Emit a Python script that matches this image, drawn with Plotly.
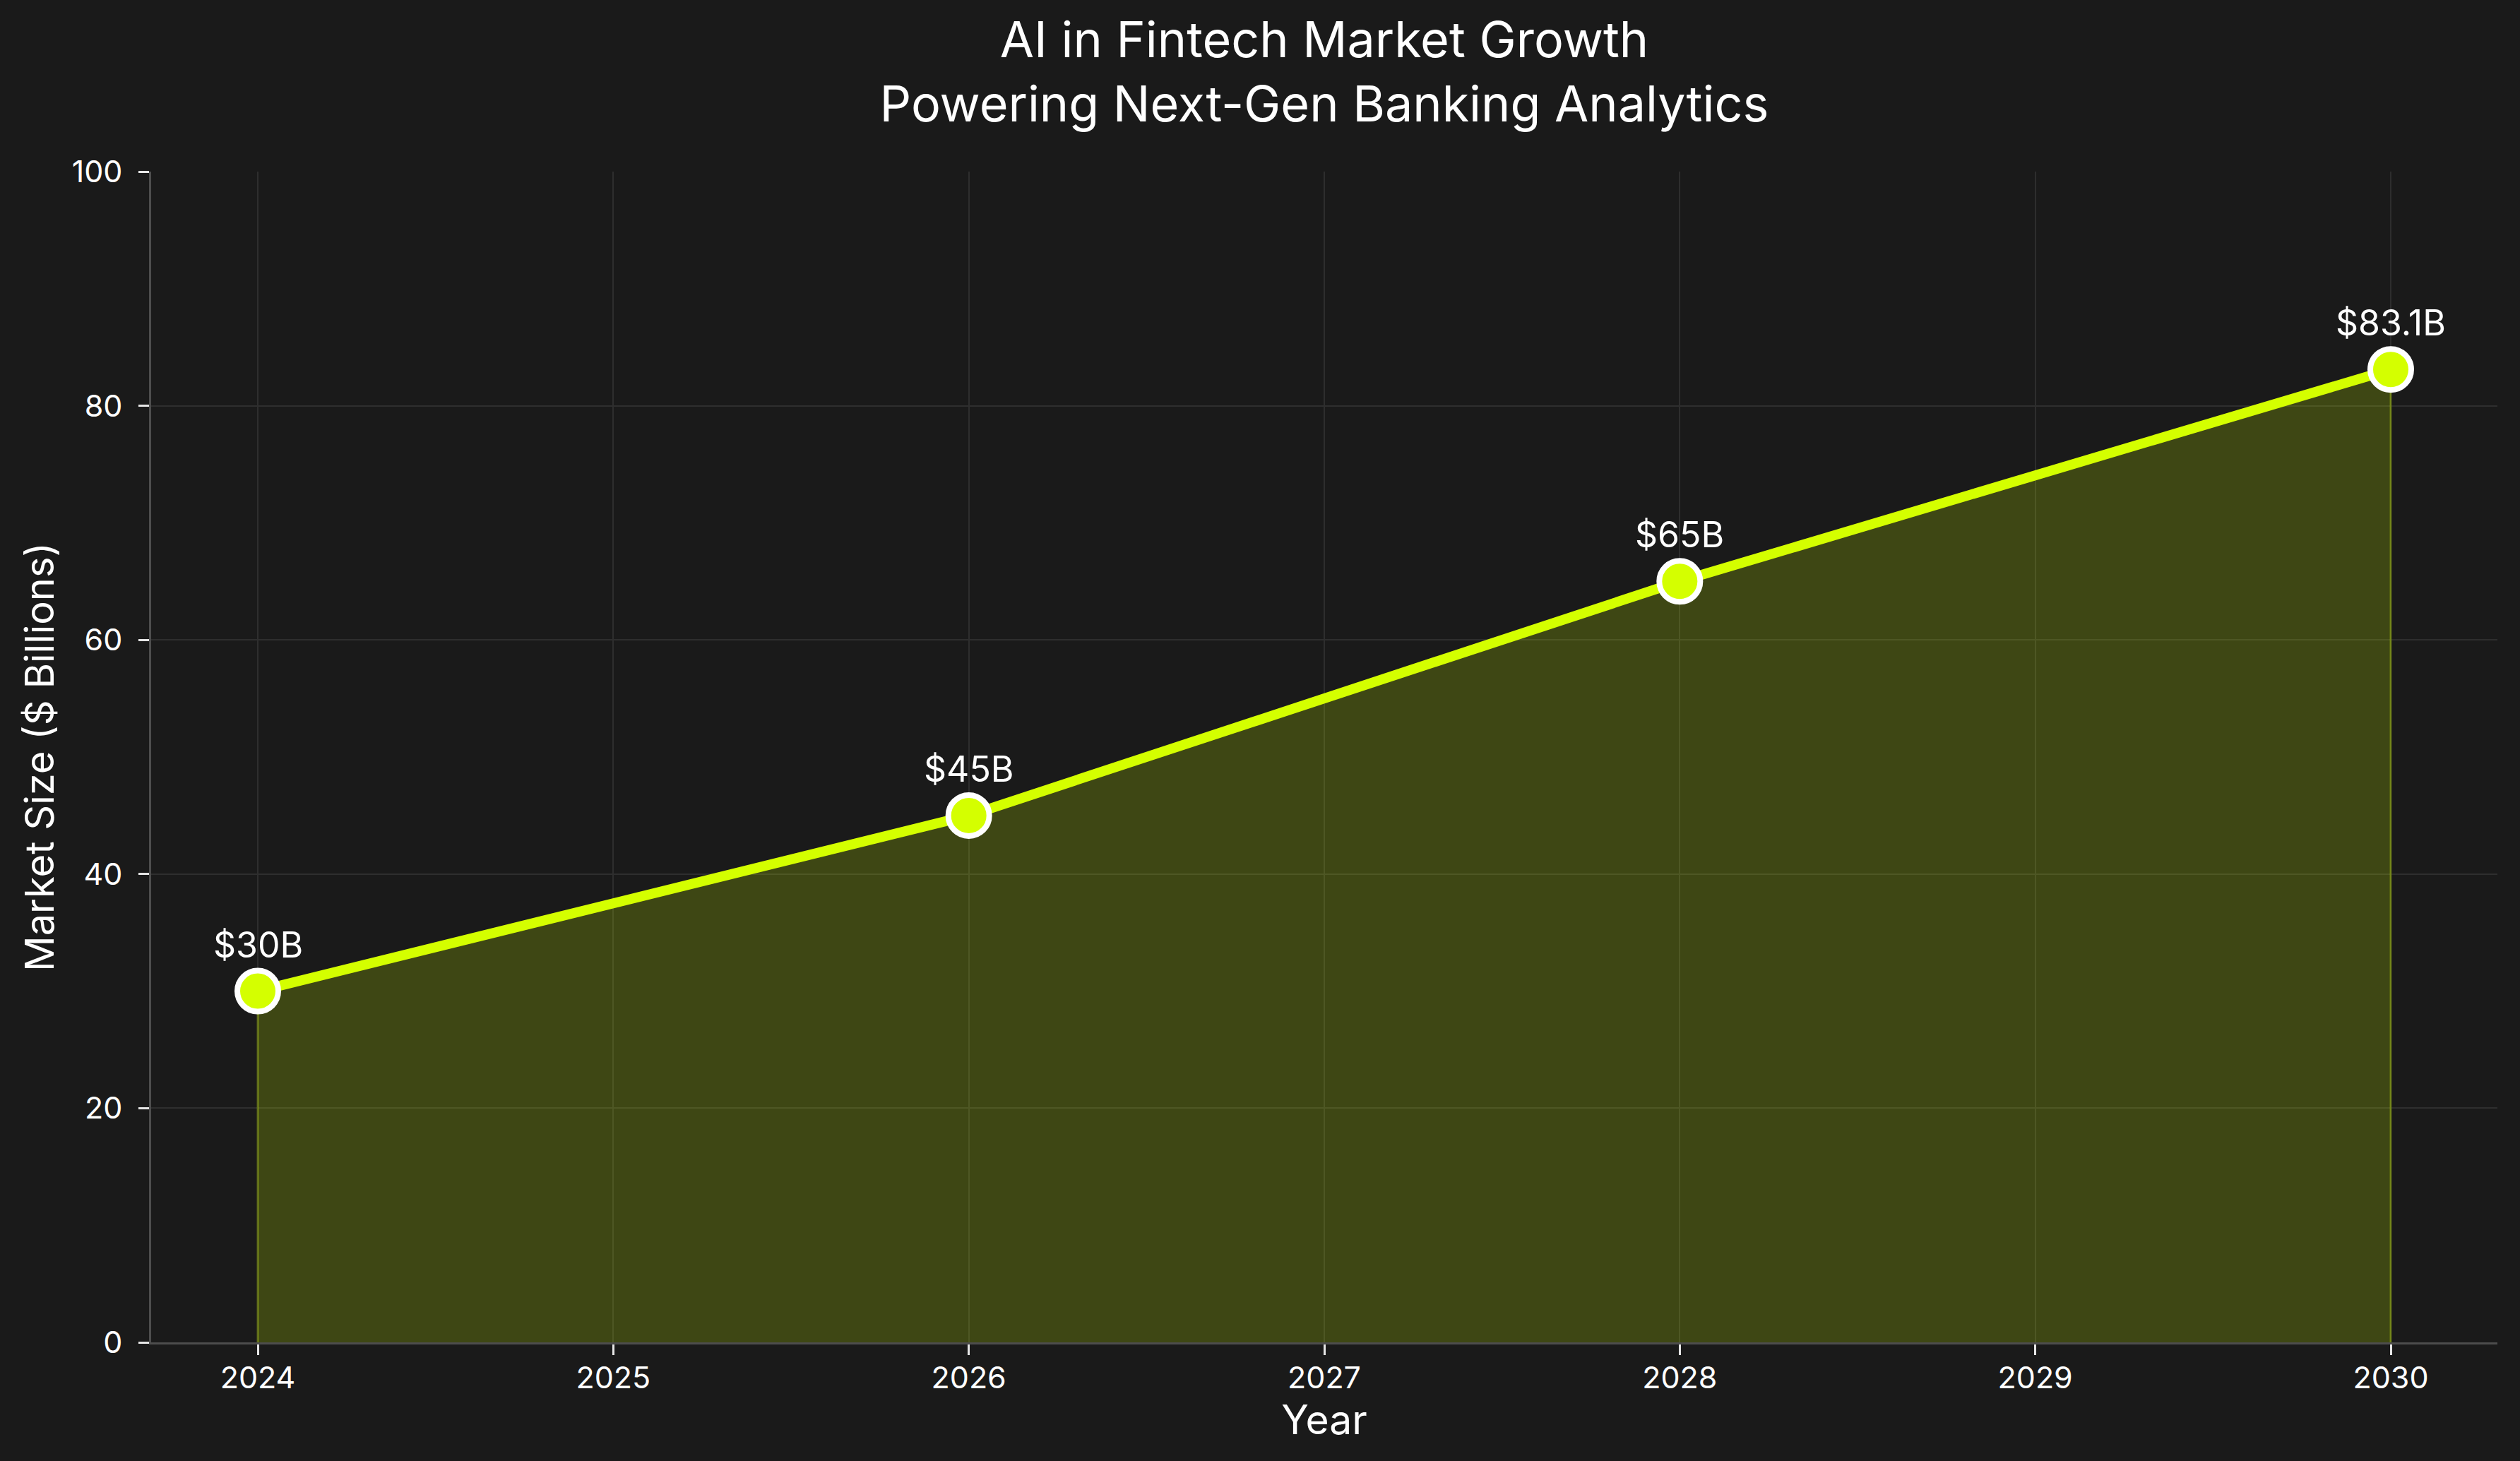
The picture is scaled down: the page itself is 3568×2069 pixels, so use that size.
import plotly.graph_objects as go

# market size in $ billions
years = [2024, 2026, 2028, 2030]
market_size = [30, 45, 65, 83.1]
point_labels = ["$30B", "$45B", "$65B", "$83.1B"]
y_ticks = [0, 20, 40, 60, 80, 100]
x_ticks = [2024, 2025, 2026, 2027, 2028, 2029, 2030]

bg = "#1a1a1a"
lime = "#d4ff00"
font_family = "Inter"

fig = go.Figure()

# shaded area under the curve (closed down to zero like fill_between)
area_x = [years[0]] + years + [years[-1]]
area_y = [0] + market_size + [0]
fig.add_trace(go.Scatter(x=area_x,
                         y=area_y,
                         mode="lines",
                         fill="toself",
                         fillcolor="rgba(212,255,0,0.2)",
                         line=dict(color="rgba(212,255,0,0.3)", width=3),
                         hoverinfo="skip",
                         showlegend=False))

fig.add_trace(go.Scatter(x=years,
                         y=market_size,
                         mode="lines+markers",
                         line=dict(color=lime, width=14),
                         marker=dict(size=58, color=lime,
                                     line=dict(color="white", width=8)),
                         showlegend=False))

for x, y, t in zip(years, market_size, point_labels):
    fig.add_annotation(x=x, y=y, text=t, showarrow=False,
                       yshift=66, yanchor="middle",
                       font=dict(family=font_family, size=50, color="white"))

fig.update_layout(width=3568,
                  height=2069,
                  margin=dict(l=214, r=32, t=243, b=168),
                  plot_bgcolor=bg,
                  paper_bgcolor=bg,
                  font=dict(family=font_family, size=43, color="white"),
                  title=dict(text="AI in Fintech Market Growth<br>Powering Next-Gen Banking Analytics",
                             x=0.5, xref="paper", xanchor="center",
                             y=0.961, yref="container", yanchor="middle",
                             font=dict(family=font_family, size=70, color="white")))

fig.update_xaxes(range=[2023.7, 2030.3],
                 tickvals=x_ticks,
                 ticks="outside", ticklen=15, tickwidth=3, tickcolor="#e6e6e6",
                 ticklabelstandoff=-5,
                 showgrid=True, gridcolor="#2e2e2e", gridwidth=2,
                 zeroline=False,
                 showline=True, linecolor="#4d4d4d", linewidth=3,
                 title=dict(text="Year", standoff=10,
                            font=dict(family=font_family, size=57, color="white")))

fig.update_yaxes(range=[0, 100],
                 tickvals=y_ticks,
                 ticks="outside", ticklen=15, tickwidth=3, tickcolor="#e6e6e6",
                 ticklabelstandoff=14,
                 showgrid=True, gridcolor="#2e2e2e", gridwidth=2,
                 zeroline=False,
                 showline=True, linecolor="#4d4d4d", linewidth=3,
                 title=dict(text="Market Size ($ Billions)", standoff=8,
                            font=dict(family=font_family, size=56, color="white")))

fig.write_html("out.html",
               config={"displayModeBar": False},
               post_script="document.body.style.margin='0';"
                           "document.body.style.background='#1a1a1a';")
